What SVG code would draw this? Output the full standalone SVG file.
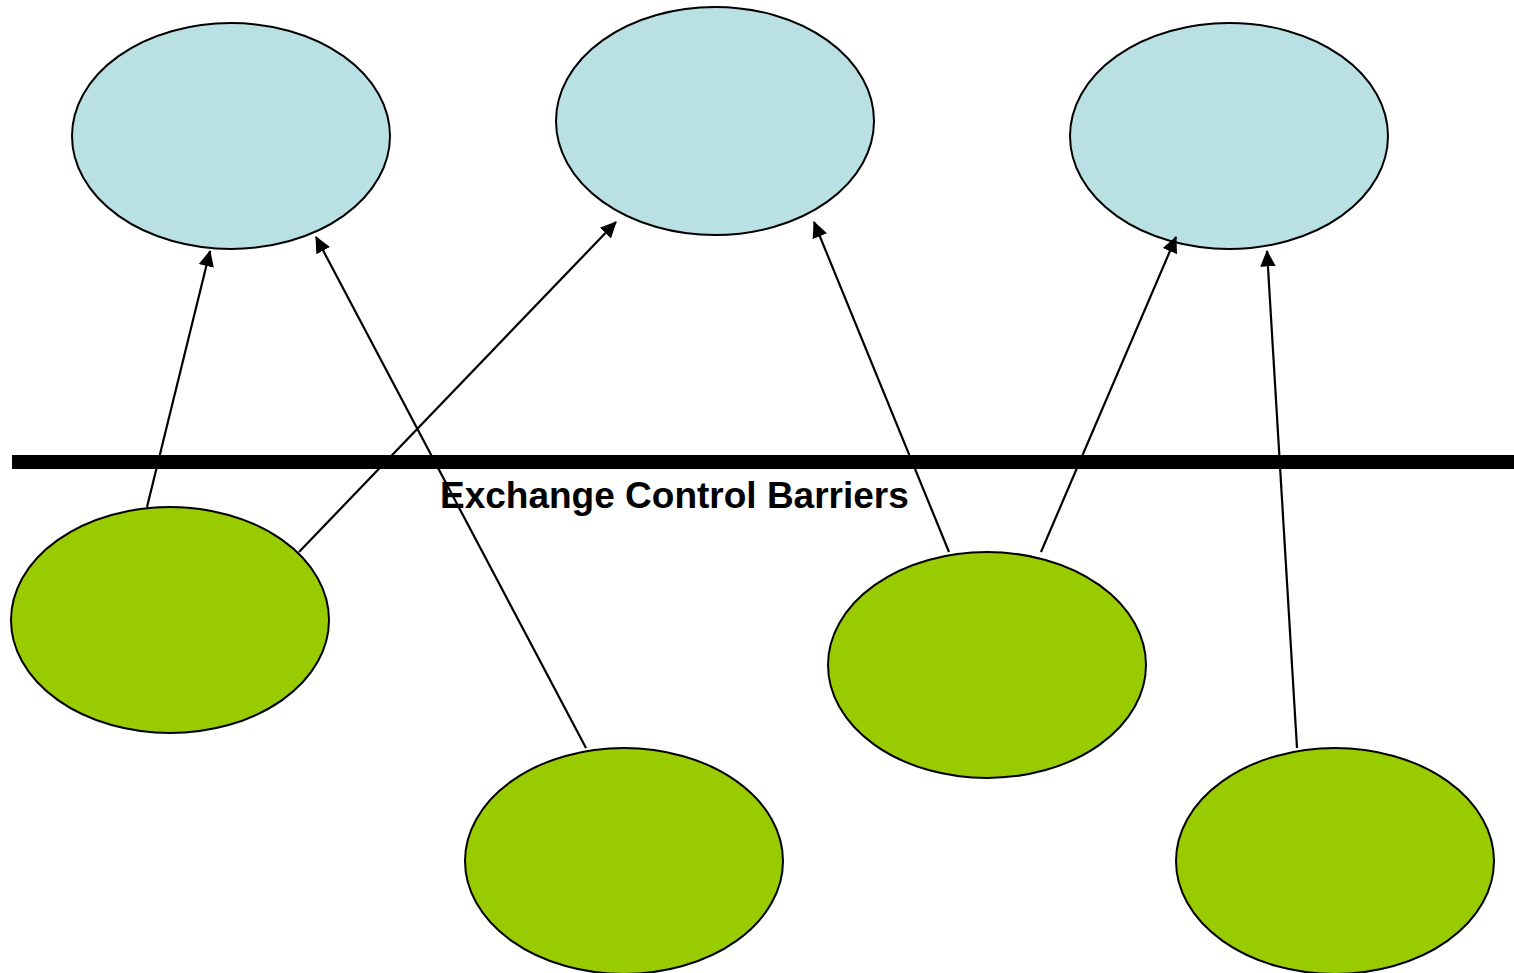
<svg xmlns="http://www.w3.org/2000/svg" width="1514" height="973" viewBox="0 0 1514 973">
<style>
.top{fill:#b9e0e3;stroke:#000;stroke-width:2}
.bot{fill:#99cc00;stroke:#000;stroke-width:2}
.arr{stroke:#000;stroke-width:2.2;fill:none;marker-end:url(#ah)}
.lbl{font-family:"Liberation Sans",Arial,sans-serif;font-weight:bold;font-size:37px;fill:#000}
</style>
<defs>
<marker id="ah" markerWidth="8" markerHeight="8" refX="7" refY="4" orient="auto" markerUnits="strokeWidth">
<path d="M0,0.5 L7.5,4 L0,7.5 Z" fill="#000"/>
</marker>
</defs>
<rect width="1514" height="973" fill="#fff"/>
<g id="top1"><ellipse class="top" cx="231" cy="136" rx="159" ry="113"/></g>
<g id="top2"><ellipse class="top" cx="715" cy="121" rx="159" ry="114"/></g>
<g id="top3"><ellipse class="top" cx="1229" cy="136" rx="159" ry="113"/></g>
<g id="bot1"><ellipse class="bot" cx="170" cy="620" rx="159" ry="113"/></g>
<g id="bot2"><ellipse class="bot" cx="624" cy="861" rx="159" ry="113"/></g>
<g id="bot3"><ellipse class="bot" cx="987" cy="665" rx="159" ry="113"/></g>
<g id="bot4"><ellipse class="bot" cx="1335" cy="861" rx="159" ry="113"/></g>
<g id="barrier">
<rect x="12" y="455" width="1502" height="14" fill="#000"/>
<text class="lbl" x="440" y="508">Exchange Control Barriers</text>
</g>
<g id="connectors">
<line class="arr" x1="147" y1="507" x2="210" y2="251"/>
<line class="arr" x1="586" y1="748" x2="316" y2="237"/>
<line class="arr" x1="299" y1="552" x2="616" y2="222"/>
<line class="arr" x1="949" y1="552" x2="814" y2="222"/>
<line class="arr" x1="1041" y1="552" x2="1176" y2="237"/>
<line class="arr" x1="1297" y1="748" x2="1267" y2="251"/>
</g>
</svg>
